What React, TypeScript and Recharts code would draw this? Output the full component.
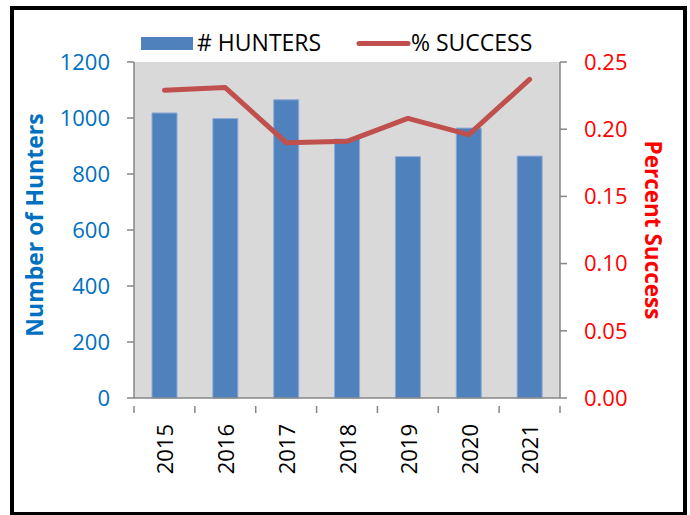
import { ComposedChart, Bar, Line, XAxis, YAxis, CartesianGrid } from 'recharts'

const years = ['2015', '2016', '2017', '2018', '2019', '2020', '2021']
const hunters = [1018, 998, 1065, 925, 862, 964, 864]
const success = [0.229, 0.231, 0.19, 0.191, 0.208, 0.196, 0.237]
const leftTicks = [0, 200, 400, 600, 800, 1000, 1200]
const rightTicks = [0, 0.05, 0.1, 0.15, 0.2, 0.25]

const data = years.map((year, i) => ({ year, hunters: hunters[i], success: success[i] }))

const FONT = '"Open Sans", sans-serif'
const AXIS = '#868686'
const W = 690
const H = 515
const LEFT_W = 134
const RIGHT_W = 130
const BAND = (W - LEFT_W - RIGHT_W) / years.length

function YearTick(props: any) {
  const { x, y, payload, index } = props
  return (
    <g>
      <line x1={x - BAND / 2} x2={x - BAND / 2} y1={y} y2={y + 7} stroke={AXIS} strokeWidth={1.5} />
      {index === years.length - 1 && (
        <line x1={x + BAND / 2} x2={x + BAND / 2} y1={y} y2={y + 7} stroke={AXIS} strokeWidth={1.5} />
      )}
      <text
        transform={`translate(${x + 1},${y + 18}) rotate(-90)`}
        textAnchor="end"
        dy="0.36em"
        fontFamily={FONT}
        fontSize={22}
        fill="#000"
      >
        {payload.value}
      </text>
    </g>
  )
}

export default function App() {
  return (
    <div style={{ position: 'absolute', left: 0, top: 0, width: W, height: H, background: '#fff', fontFamily: FONT }}>
      <div
        style={{
          position: 'absolute', left: 10, top: 6, width: 677, height: 510,
          border: '4px solid #000', boxSizing: 'border-box',
        }}
      />
      {/* legend */}
      <svg style={{ position: 'absolute', left: 0, top: 0 }} width={W} height={60}>
        <rect x={141} y={37} width={52} height={13} fill="#4F81BD" />
        <text x={197} y={51} fontFamily={FONT} fontSize={23} fill="#000">
          # HUNTERS
        </text>
        <line x1={359} x2={408} y1={43.5} y2={43.5} stroke="#C0504D" strokeWidth={5} strokeLinecap="round" />
        <text x={411} y={51} fontFamily={FONT} fontSize={23} fill="#000">
          % SUCCESS
        </text>
      </svg>
      <div style={{ position: 'absolute', left: 0, top: 0 }}>
        <ComposedChart width={W} height={H} data={data} margin={{ top: 62, right: 0, bottom: 0, left: 0 }}>
          <CartesianGrid yAxisId="left" fill="#D9D9D9" stroke="none" horizontal={false} vertical={false} />
          <XAxis
            dataKey="year"
            height={H - 398}
            axisLine={{ stroke: AXIS, strokeWidth: 1.5 }}
            tickLine={false}
            tick={<YearTick />}
            interval={0}
          />
          <YAxis
            yAxisId="left"
            width={LEFT_W}
            domain={[0, 1200]}
            ticks={leftTicks}
            axisLine={{ stroke: AXIS, strokeWidth: 1.5 }}
            tickLine={{ stroke: AXIS, strokeWidth: 1.5 }}
            tickSize={7}
            tickMargin={17}
            tick={{ fill: '#0070C0', fontSize: 22, fontFamily: FONT }}
            label={{
              content: (p: any) => {
                const vb = p.viewBox
                const cx = 35
                const cy = vb.y + vb.height / 2 - 5
                return (
                  <text
                    transform={`translate(${cx},${cy}) rotate(-90)`}
                    textAnchor="middle"
                    dy="0.36em"
                    fontFamily={FONT}
                    fontWeight="bold"
                    fontSize={23}
                    fill="#0070C0"
                  >
                    Number of Hunters
                  </text>
                )
              },
            }}
          />
          <YAxis
            yAxisId="right"
            orientation="right"
            width={RIGHT_W}
            domain={[0, 0.25]}
            ticks={rightTicks}
            tickFormatter={(v: number) => v.toFixed(2)}
            axisLine={{ stroke: AXIS, strokeWidth: 1.5 }}
            tickLine={{ stroke: AXIS, strokeWidth: 1.5 }}
            tickSize={7}
            tickMargin={17}
            tick={{ fill: '#FF0000', fontSize: 22, fontFamily: FONT }}
            label={{
              content: (p: any) => {
                const vb = p.viewBox
                const cx = 653
                const cy = vb.y + vb.height / 2
                return (
                  <text
                    transform={`translate(${cx},${cy}) rotate(90)`}
                    textAnchor="middle"
                    dy="0.36em"
                    fontFamily={FONT}
                    fontWeight="bold"
                    fontSize={22.5}
                    fill="#FF0000"
                  >
                    Percent Success
                  </text>
                )
              },
            }}
          />
          <Bar
            yAxisId="left"
            dataKey="hunters"
            name="# HUNTERS"
            fill="#4F81BD"
            stroke="#8EAAD6"
            strokeWidth={1}
            barSize={25}
            isAnimationActive={false}
          />
          <Line
            yAxisId="right"
            dataKey="success"
            name="% SUCCESS"
            stroke="#C0504D"
            strokeWidth={5}
            strokeLinejoin="round"
            strokeLinecap="round"
            dot={false}
            isAnimationActive={false}
          />
        </ComposedChart>
      </div>
    </div>
  )
}
